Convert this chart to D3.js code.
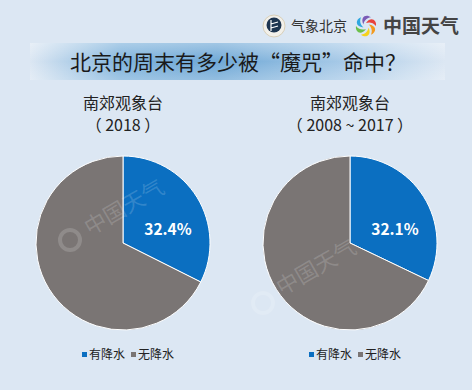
<!DOCTYPE html>
<html>
<head>
<meta charset="utf-8">
<script src="https://cdn.jsdelivr.net/npm/d3@7"></script>
<style>
  body { margin: 0; background: #dce7f3; }
  text { font-family: "Noto Sans CJK SC", "Noto Sans", sans-serif; }
</style>
</head>
<body>
<div id="chart"></div>
<script>
var width = 472, height = 390;
var bgColor = '#dce7f3';

// data
var categories = ['有降水', '无降水'];
var stationNames = ['南郊观象台', '南郊观象台'];
var periods = ['（ 2018 ）', '（ 2008 ~ 2017 ）'];
var values2018 = [32.4, 67.6];
var valuesHistory = [32.1, 67.9];
var sliceColors = ['#0b6fc1', '#7a7574'];

var svg = d3.select('#chart')
  .append('svg')
  .attr('width', width)
  .attr('height', height);

svg.append('rect')
  .attr('width', width)
  .attr('height', height)
  .attr('fill', bgColor);

// title band gradient
var defs = svg.append('defs');
var grad = defs.append('linearGradient').attr('id', 'band');
grad.append('stop').attr('offset', '0%').attr('stop-color', bgColor);
grad.append('stop').attr('offset', '22%').attr('stop-color', '#7fb3dc');
grad.append('stop').attr('offset', '45%').attr('stop-color', '#6fa8d6');
grad.append('stop').attr('offset', '75%').attr('stop-color', '#a6c9e7');
grad.append('stop').attr('offset', '100%').attr('stop-color', bgColor);

var vfade = defs.append('linearGradient').attr('id', 'vfade')
  .attr('x1', 0).attr('y1', 0).attr('x2', 0).attr('y2', 1);
vfade.append('stop').attr('offset', '0%').attr('stop-color', '#fff').attr('stop-opacity', 0.35);
vfade.append('stop').attr('offset', '50%').attr('stop-color', '#fff').attr('stop-opacity', 0);
vfade.append('stop').attr('offset', '100%').attr('stop-color', '#fff').attr('stop-opacity', 0.25);

svg.append('rect')
  .attr('x', 30).attr('y', 43)
  .attr('width', 415).attr('height', 37)
  .attr('fill', 'url(#band)');
svg.append('rect')
  .attr('x', 30).attr('y', 43)
  .attr('width', 415).attr('height', 37)
  .attr('fill', 'url(#vfade)');

svg.append('text')
  .attr('x', 238).attr('y', 70)
  .attr('text-anchor', 'middle')
  .attr('font-size', 21)
  .attr('fill', '#1a1a1a')
  .text('北京的周末有多少被“魔咒”命中？');

// logos (top right)
var logo = svg.append('g');
logo.append('circle').attr('cx', 274).attr('cy', 26).attr('r', 11)
  .attr('fill', '#f2f0ea').attr('stroke', '#d8cfb8');
logo.append('circle').attr('cx', 274).attr('cy', 25).attr('r', 7.5).attr('fill', '#1d3550');
logo.append('path').attr('d', 'M271,20 L271,31 M271,24 L278,22 M271,28 L278,26')
  .attr('stroke', '#fff').attr('stroke-width', 1.2).attr('fill', 'none');
logo.append('text').attr('x', 291).attr('y', 31)
  .attr('font-size', 14).attr('fill', '#333').text('气象北京');

var swirlColors = ['#e8423c', '#f39a1e', '#f6d21c', '#6cc04a', '#2fa7e0', '#7b5bb6'];
swirlColors.forEach(function(c, i) {
  var a = i * 60;
  logo.append('path')
    .attr('transform', 'translate(366,26) rotate(' + a + ')')
    .attr('d', 'M0,-3 C5,-10 11,-6 10,0 C7,-4 3,-4 0,-3 Z')
    .attr('fill', c);
});
logo.append('text').attr('x', 383).attr('y', 33)
  .attr('font-size', 19).attr('font-weight', 'bold').attr('fill', '#444')
  .text('中国天气');

// pies
var pie = d3.pie().sort(null).value(function(d) { return d; });
var radius = 87;
var arc = d3.arc().innerRadius(0).outerRadius(radius);

var charts = [
  { cx: 123, values: values2018, name: stationNames[0], period: periods[0] },
  { cx: 350, values: valuesHistory, name: stationNames[1], period: periods[1] }
];

charts.forEach(function(c) {
  svg.append('text')
    .attr('x', c.cx).attr('y', 109)
    .attr('text-anchor', 'middle')
    .attr('font-size', 16).attr('fill', '#222')
    .text(c.name);
  svg.append('text')
    .attr('x', c.cx).attr('y', 131)
    .attr('text-anchor', 'middle')
    .attr('font-size', 16).attr('fill', '#222')
    .text(c.period);

  var g = svg.append('g').attr('transform', 'translate(' + c.cx + ',243)');
  var arcs = pie(c.values);
  g.selectAll('path')
    .data(arcs)
    .enter().append('path')
    .attr('d', arc)
    .attr('fill', function(d, i) { return sliceColors[i]; })
    .attr('stroke', '#fff')
    .attr('stroke-width', 1);

  var a = arcs[0];
  g.append('text')
    .attr('x', 45).attr('y', -8)
    .attr('text-anchor', 'middle')
    .attr('font-family', 'Roboto, sans-serif')
    .attr('font-size', 15.5).attr('font-weight', 'bold')
    .attr('fill', '#fff')
    .text(d3.format('.1f')(a.data) + '%');

  // legend
  var lg = svg.append('g').attr('transform', 'translate(' + (c.cx - 41) + ',355)');
  categories.forEach(function(cat, i) {
    var x = i * 49;
    lg.append('rect').attr('x', x).attr('y', -3)
      .attr('width', 5).attr('height', 5)
      .attr('fill', sliceColors[i]);
    lg.append('text').attr('x', x + 7).attr('y', 4)
      .attr('font-size', 12).attr('fill', '#222')
      .text(cat);
  });
});

// watermarks
[[128, 214, 70, 240], [320, 274, 263, 303]].forEach(function(p) {
  svg.append('text')
    .attr('transform', 'translate(' + p[0] + ',' + p[1] + ') rotate(-30)')
    .attr('text-anchor', 'middle')
    .attr('font-size', 22)
    .attr('fill', '#fff').attr('fill-opacity', 0.16)
    .text('中国天气');
  svg.append('circle')
    .attr('cx', p[2]).attr('cy', p[3]).attr('r', 10)
    .attr('fill', 'none')
    .attr('stroke', '#fff').attr('stroke-opacity', 0.16)
    .attr('stroke-width', 4);
});
</script>
</body>
</html>
